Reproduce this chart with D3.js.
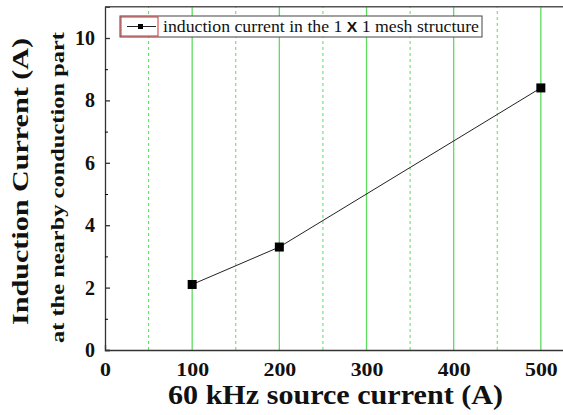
<!DOCTYPE html>
<html>
<head>
<meta charset="utf-8">
<script src="https://cdn.jsdelivr.net/npm/d3@7"></script>
<style>
  body { margin: 0; background: #fff; }
  text { font-family: "Liberation Serif", "Times New Roman", serif; }
</style>
</head>
<body>
<svg></svg>
<script>
const sourceCurrent = [100, 200, 500];
const inductionCurrent = [2.1, 3.3, 8.4];
const xTicks = [0, 100, 200, 300, 400, 500];
const yTicks = [0, 2, 4, 6, 8, 10];
const seriesName = 'induction current in the 1 X 1 mesh structure';

const width = 563, height = 415;
const svg = d3.select('svg').attr('width', width).attr('height', height);

const x = d3.scaleLinear().domain([0, 530]).range([105, 567]);
const y = d3.scaleLinear().domain([0, 11]).range([350, 6.8]);

// grid: solid at hundreds, dashed at fifties
const gridSolid = xTicks.filter(d => d > 0);
const gridDash = gridSolid.map(d => d - 50);
svg.append('g').selectAll('line').data(gridSolid).enter().append('line')
  .attr('x1', d => x(d)).attr('x2', d => x(d))
  .attr('y1', y(0)).attr('y2', y(11))
  .attr('stroke', '#5ddc5d').attr('stroke-width', 1.3);
svg.append('g').selectAll('line').data(gridDash).enter().append('line')
  .attr('x1', d => x(d)).attr('x2', d => x(d))
  .attr('y1', y(0)).attr('y2', y(11))
  .attr('stroke', '#5ddc5d').attr('stroke-width', 1).attr('stroke-dasharray', '3,3');

// axes
const yAxis = svg.append('g').attr('transform', `translate(${x(0)},0)`)
  .call(d3.axisLeft(y).tickValues(yTicks).tickSize(-5).tickPadding(10));
svg.append('g').attr('transform', `translate(${x(0)},0)`)
  .call(d3.axisLeft(y).tickValues([1, 3, 5, 7, 9]).tickSize(-3).tickFormat(''))
  .select('.domain').remove();
const xAxis = svg.append('g').attr('transform', `translate(0,${y(0)})`)
  .call(d3.axisBottom(x).tickValues(xTicks).tickSize(-5).tickPadding(13));
[yAxis, xAxis].forEach(g => {
  g.selectAll('path, line').attr('stroke', '#333').attr('stroke-width', 1.3);
  g.selectAll('text')
    .style('font-family', '"Liberation Serif", "Times New Roman", serif')
    .style('font-weight', 'bold').attr('fill', '#111');
});
yAxis.selectAll('text').style('font-size', '20px');
xAxis.selectAll('text').style('font-size', '19px').attr('transform', 'scale(1.15,1)');
xAxis.selectAll('.tick line').attr('stroke', 'none');
svg.append('line').attr('x1', x(0)).attr('x2', width)
  .attr('y1', y(11)).attr('y2', y(11))
  .attr('stroke', '#555').attr('stroke-width', 1.5);

// series
const pts = sourceCurrent.map((d, i) => [d, inductionCurrent[i]]);
svg.append('path').datum(pts)
  .attr('fill', 'none').attr('stroke', '#222').attr('stroke-width', 1)
  .attr('d', d3.line().x(d => x(d[0])).y(d => y(d[1])));
svg.append('g').selectAll('rect').data(pts).enter().append('rect')
  .attr('x', d => x(d[0]) - 4.5).attr('y', d => y(d[1]) - 4.5)
  .attr('width', 9).attr('height', 9).attr('fill', '#000');

// legend
const lg = svg.append('g');
lg.append('rect').attr('x', 120).attr('y', 16).attr('width', 362).attr('height', 21)
  .attr('fill', '#fff').attr('stroke', '#444').attr('stroke-width', 1);
lg.append('rect').attr('x', 121).attr('y', 17).attr('width', 37).attr('height', 19)
  .attr('fill', 'none').attr('stroke', '#c33').attr('stroke-width', 1);
lg.append('line').attr('x1', 127).attr('x2', 156).attr('y1', 26.5).attr('y2', 26.5)
  .attr('stroke', '#222');
lg.append('rect').attr('x', 138).attr('y', 24).attr('width', 5).attr('height', 5).attr('fill', '#000');
const lt = lg.append('text').attr('x', 163).attr('y', 32)
  .attr('textLength', 316).attr('lengthAdjust', 'spacingAndGlyphs')
  .style('font-size', '17px').attr('fill', '#111');
lt.append('tspan').text('induction current in the 1 ');
lt.append('tspan').text('X').style('font-family', '"Liberation Sans", sans-serif')
  .style('font-weight', 'bold').style('font-size', '15px');
lt.append('tspan').text(' 1 mesh structure');

// axis titles
svg.append('text').attr('transform', 'translate(28,181.5) rotate(-90)')
  .attr('text-anchor', 'middle').attr('textLength', 287).attr('lengthAdjust', 'spacingAndGlyphs')
  .style('font-size', '24px').style('font-weight', 'bold')
  .attr('fill', '#111').text('Induction Current (A)');
svg.append('text').attr('transform', 'translate(64,187.5) rotate(-90)')
  .attr('text-anchor', 'middle').attr('textLength', 311).attr('lengthAdjust', 'spacingAndGlyphs')
  .style('font-size', '19px').style('font-weight', 'bold')
  .attr('fill', '#111').text('at the nearby conduction part');
svg.append('text').attr('x', 335.5).attr('y', 404)
  .attr('text-anchor', 'middle').attr('textLength', 335).attr('lengthAdjust', 'spacingAndGlyphs')
  .style('font-size', '27px').style('font-weight', 'bold')
  .attr('fill', '#111').text('60 kHz source current (A)');
</script>
</body>
</html>
